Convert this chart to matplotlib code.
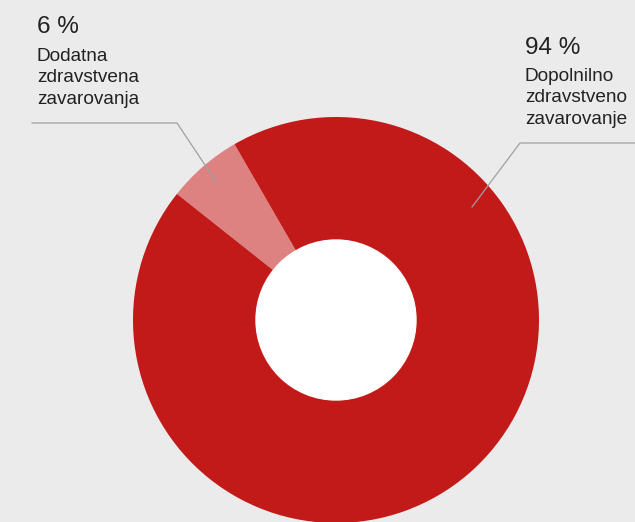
import matplotlib
matplotlib.use('Agg')
import matplotlib.pyplot as plt

# Data
shares = [6, 94]
percent_labels = ['6 %', '94 %']
names = ['Dodatna\nzdravstvena\nzavarovanja', 'Dopolnilno\nzdravstveno\nzavarovanje']
colors = ['#dd8280', '#c21a18']

W, H = 635, 522
plt.rcParams['font.family'] = ['Liberation Sans', 'DejaVu Sans']

fig = plt.figure(figsize=(W / 100, H / 100), dpi=100)
fig.patch.set_facecolor('#ebebeb')
ax = fig.add_axes([0, 0, 1, 1])
ax.set_facecolor('#ebebeb')

# pixel-based coordinates (y measured from bottom)
cx, cy, r_out, r_in = 336, H - 320, 203, 80
ax.pie(shares, colors=colors, startangle=120, counterclock=True,
       radius=r_out, center=(cx, cy), wedgeprops=dict(linewidth=0))
ax.add_patch(plt.Circle((cx, cy), r_in, color='white', zorder=3))

ax.set_xlim(0, W)
ax.set_ylim(0, H)
ax.set_aspect('equal')
ax.axis('off')

# leader lines
ax.plot([32, 177, 217], [H - 123, H - 123, H - 183], color='#a0a0a0', lw=0.9, zorder=4)
ax.plot([635, 520, 472], [H - 143, H - 143, H - 207], color='#a0a0a0', lw=0.9, zorder=4)

# labels
ax.text(37, H - 33, percent_labels[0], fontsize=17.5, color='#222222', va='baseline')
ax.text(37, H - 48, names[0], fontsize=13.7, color='#222222', va='top', linespacing=1.34)
ax.text(525, H - 54, percent_labels[1], fontsize=17.5, color='#222222', va='baseline')
ax.text(525, H - 68, names[1], fontsize=13.7, color='#222222', va='top', linespacing=1.34)

fig.savefig('out.png', dpi=100, facecolor=fig.get_facecolor())
